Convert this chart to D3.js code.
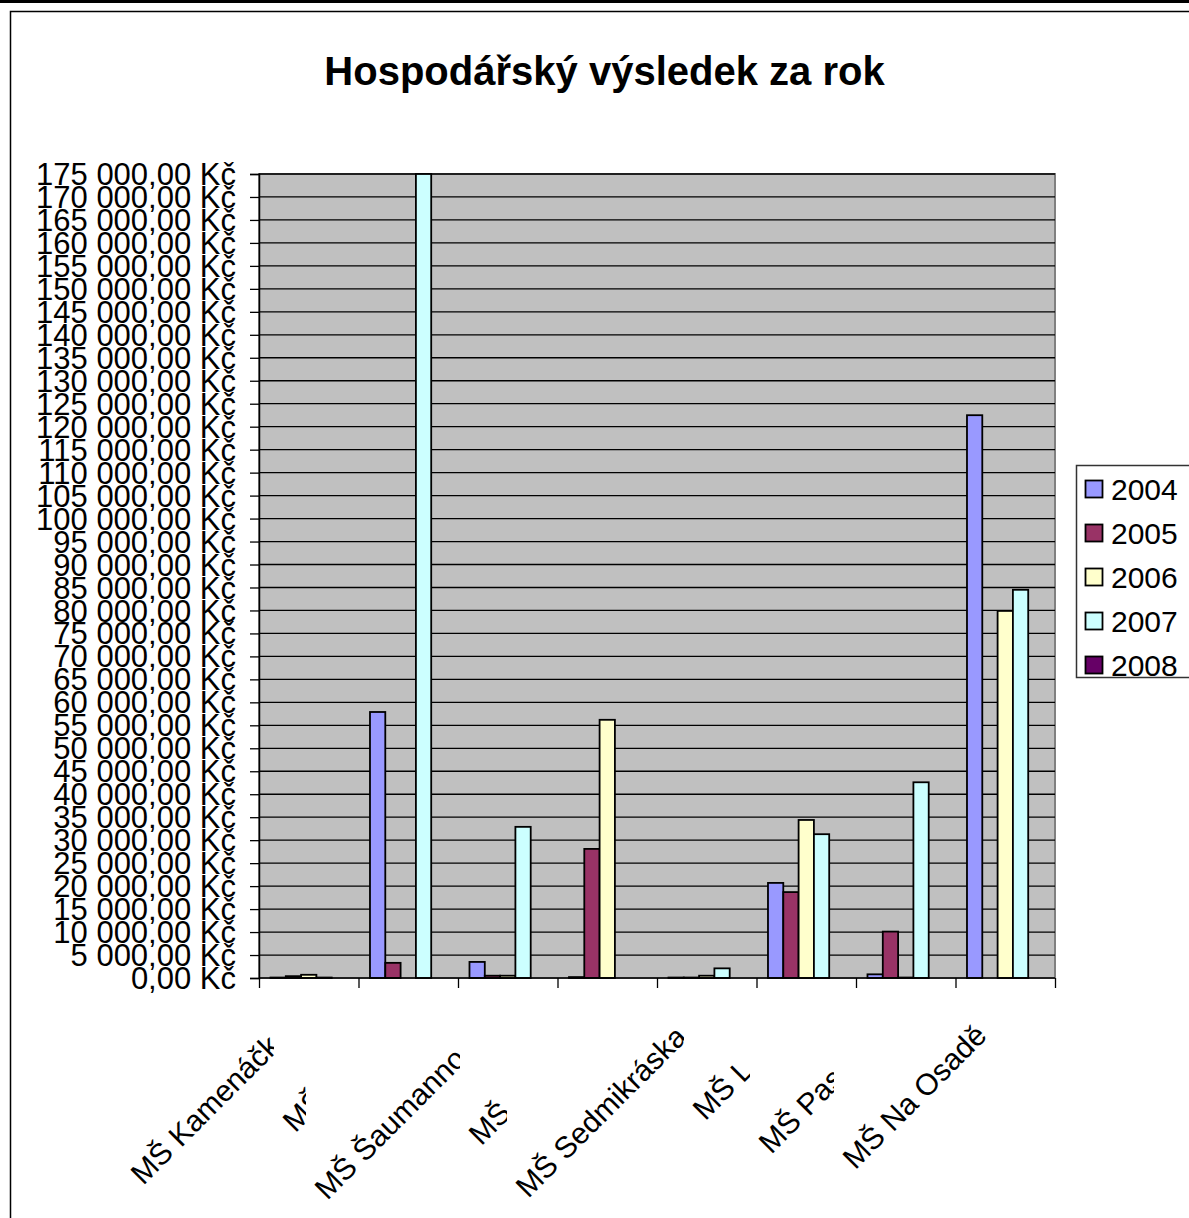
<!DOCTYPE html>
<html><head><meta charset="utf-8">
<script src="https://cdn.jsdelivr.net/npm/d3@7"></script>
<style>
body{margin:0;background:#fff;overflow:hidden}
text{font-family:"Liberation Sans",Arial,sans-serif;fill:#000}
</style>
</head><body>
<svg id="c" width="1189" height="1218"></svg>
<script>
// ---- data ----
const title = "Hospodářský výsledek za rok";
const categories = ["MŠ Kamenáčk", "MŠ", "MŠ Šaumanno", "MŠ", "MŠ Sedmikráska", "MŠ L", "MŠ Pas", "MŠ Na Osadě"];
const years = ["2004", "2005", "2006", "2007", "2008"];
const v2004 = [100, 57900, 3500, 200, 100, 20700, 800, 122500];
const v2005 = [400, 3300, 500, 28100, 100, 18700, 10100, null];
const v2006 = [700, null, 500, 56200, 500, 34400, 100, 79900];
const v2007 = [100, 175000, 32900, null, 2100, 31300, 42600, 84500];
const v2008 = [null, null, null, null, null, null, null, null];
const colors = ["#9999FF", "#993366", "#FFFFCC", "#CCFFFF", "#660066"];
const yMax = 175000, yStep = 5000;
const yTickValues = d3.range(0, yMax + 1, yStep);

const seriesValues = [v2004, v2005, v2006, v2007, v2008];

// ---- layout ----
const FS = 30;
const plot = {l: 259, r: 1055, t: 174, b: 978};
const svg = d3.select("#c");

// outer frame
svg.append("rect").attr("x", 0).attr("y", 0).attr("width", 1189).attr("height", 3).attr("fill", "#000");
svg.append("rect").attr("x", 10.5).attr("y", 11.5).attr("width", 1300).attr("height", 1300)
  .attr("fill", "none").attr("stroke", "#000").attr("stroke-width", 1.5);

// title
svg.append("text").attr("x", 604.5).attr("y", 85)
  .attr("text-anchor", "middle").attr("font-weight", "bold").attr("font-size", 40).text(title);

const x0 = d3.scaleBand().domain(d3.range(categories.length)).range([plot.l, plot.r]).paddingInner(0).paddingOuter(0);
const x1 = d3.scaleBand().domain(years).range([0, x0.bandwidth()]).paddingInner(0).paddingOuter(0.75);
const y = d3.scaleLinear().domain([0, yMax]).range([plot.b, plot.t]);

// plot area
svg.append("rect").attr("x", plot.l).attr("y", plot.t).attr("width", plot.r - plot.l).attr("height", plot.b - plot.t)
  .attr("fill", "#C0C0C0").attr("stroke", "#808080").attr("stroke-width", 2);

// gridlines
svg.append("g").selectAll("line").data(yTickValues.filter(d => d > 0)).join("line")
  .attr("x1", plot.l).attr("x2", plot.r).attr("y1", d => y(d)).attr("y2", d => y(d))
  .attr("stroke", "#000").attr("stroke-width", 1.3);

// y axis
const loc = d3.formatLocale({decimal: ",", thousands: " ", grouping: [3], currency: ["", " Kč"]});
const fmt = loc.format("$,.2f");
const yAxis = svg.append("g").attr("transform", `translate(${plot.l},0)`)
  .call(d3.axisLeft(y).tickValues(yTickValues).tickSize(9).tickPadding(0).tickFormat(fmt));
yAxis.select(".domain").attr("stroke", "#000").attr("stroke-width", 1.5);
yAxis.selectAll(".tick line").attr("stroke", "#000").attr("stroke-width", 1.3);
yAxis.selectAll(".tick text").attr("font-size", 31).attr("font-family", null)
  .attr("x", -23).attr("dy", "0.34em").attr("fill", "#000");

// bars
const groups = svg.append("g").selectAll("g").data(categories.map((c, i) => i)).join("g")
  .attr("transform", i => `translate(${x0(i)},0)`);
groups.selectAll("rect")
  .data(i => years.map((yr, k) => ({yr, k, v: seriesValues[k][i]})).filter(d => d.v !== null))
  .join("rect")
  .attr("x", d => x1(d.yr)).attr("width", x1.bandwidth())
  .attr("y", d => y(d.v)).attr("height", d => y(0) - y(d.v))
  .attr("fill", d => colors[d.k]).attr("stroke", "#000").attr("stroke-width", 1.8);

// x axis (ticks at category boundaries)
const xb = d3.scaleLinear().domain([0, categories.length]).range([plot.l, plot.r]);
const xAxis = svg.append("g").attr("transform", `translate(0,${plot.b})`)
  .call(d3.axisBottom(xb).ticks(categories.length).tickSize(10).tickFormat(""));
xAxis.select(".domain").attr("stroke", "#000").attr("stroke-width", 1.5).attr("d", `M${plot.l},0H${plot.r}`);
xAxis.selectAll(".tick line").attr("stroke", "#000").attr("stroke-width", 1.3);

// category labels, rotated -45, clipped where the next label begins
const labelLeft = [128, 280, 312, 466, 513, 690, 756, 840]; // leftmost x of each label (layout)
const capH = 0.716 * FS, c45 = Math.SQRT1_2;
const defs = svg.append("defs");
categories.forEach((name, i) => {
  const center = x0(i) + x0.bandwidth() / 2;
  const lx = labelLeft[i];
  const ly = 990 - (lx - center);
  const sx = lx + capH * c45, sy = ly + capH * c45;
  const clipR = i < categories.length - 1 ? labelLeft[i + 1] - 6 : 1189;
  defs.append("clipPath").attr("id", "lc" + i).append("rect")
    .attr("x", 0).attr("y", 900).attr("width", clipR).attr("height", 400);
  svg.append("g").attr("clip-path", `url(#lc${i})`).append("text")
    .attr("transform", `translate(${sx},${sy}) rotate(-45)`)
    .attr("font-size", FS).text(name);
});

// legend
const lg = svg.append("g");
lg.append("rect").attr("x", 1076.5).attr("y", 465.5).attr("width", 130).attr("height", 212)
  .attr("fill", "#fff").attr("stroke", "#333").attr("stroke-width", 1.5);
years.forEach((yr, k) => {
  const cy = 489 + k * 44;
  lg.append("rect").attr("x", 1085.5).attr("y", cy - 8.5).attr("width", 17).attr("height", 17)
    .attr("fill", colors[k]).attr("stroke", "#000").attr("stroke-width", 1.8);
  lg.append("text").attr("x", 1111).attr("y", cy + 11)
    .attr("font-size", FS).text(yr);
});
</script>
</body></html>
